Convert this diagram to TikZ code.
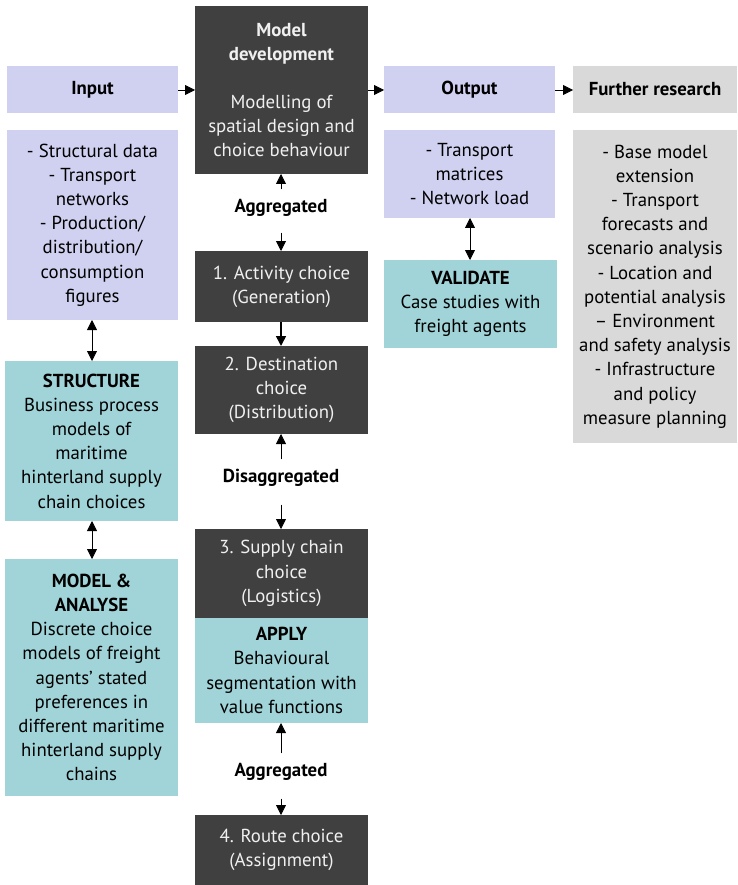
\documentclass[tikz,border=0pt]{standalone}
\usepackage{fontspec}
\setmainfont{PT Sans}
\usetikzlibrary{arrows.meta}
\definecolor{lav}{RGB}{208,208,240}
\definecolor{teal2}{RGB}{160,212,216}
\definecolor{gry}{RGB}{217,217,217}
\definecolor{drk}{RGB}{64,64,64}
\definecolor{ltxt}{RGB}{240,240,240}
\tikzset{
  box/.style={inner sep=0pt, outer sep=0pt, align=center, font=\fontsize{18.8}{24.2}\selectfont},
  lavbox/.style={box, fill=lav, text=black},
  tealbox/.style={box, fill=teal2, text=black},
  grybox/.style={box, fill=gry, text=black},
  drkbox/.style={box, fill=drk, text=ltxt},
  lbl/.style={inner sep=0pt, outer sep=0pt, font=\fontsize{18.8}{24}\selectfont\bfseries},
  arr/.style={-{Triangle[width=10pt,length=10pt]}, line width=0.8pt},
  darr/.style={{Triangle[width=10pt,length=10pt]}-{Triangle[width=10pt,length=10pt]}, line width=0.8pt}
}
\newcommand{\bx}[7]{% name, style, x1, y1, x2, y2, text
  \node[#2, minimum width=#5pt-#3pt, minimum height=#6pt-#4pt] (#1) at ({(#3+#5)/2*1pt}, {-(#4+#6)/2*1pt}) {#7};}
\begin{document}
\begin{tikzpicture}
\useasboundingbox (0,0) rectangle (737pt,-885pt);
% left column
\bx{inH}{lavbox}{7}{66}{178}{113}{\textbf{Input}}
\bx{inB}{lavbox}{7}{130}{178}{320}{- Structural data\\- Transport\\networks\\- Production/\\distribution/\\consumption\\figures}
\bx{st}{tealbox}{5}{361}{178}{521}{\textbf{STRUCTURE}\\Business process\\models of\\maritime\\hinterland supply\\chain choices}
\bx{ma}{tealbox}{5}{559}{178}{796}{\textbf{MODEL \&}\\\textbf{ANALYSE}\\Discrete choice\\models of freight\\agents’ stated\\preferences in\\different maritime\\hinterland supply\\chains}
% middle column
\bx{md}{drkbox}{195}{6}{368}{174}{\textbf{Model}\\\textbf{development}\\[24pt]Modelling of\\spatial design and\\choice behaviour}
\bx{act}{drkbox}{195}{251}{368}{322}{1. Activity choice\\(Generation)}
\bx{dst}{drkbox}{195}{346}{368}{434}{2. Destination\\choice\\(Distribution)}
\bx{sc}{drkbox}{195}{529}{368}{618}{3. Supply chain\\choice\\(Logistics)}
\bx{ap}{tealbox}{195}{618}{368}{723}{\textbf{APPLY}\\Behavioural\\segmentation with\\value functions}
\bx{rt}{drkbox}{195}{815}{368}{885}{4. Route choice\\(Assignment)}
% right columns
\bx{outH}{lavbox}{384}{66}{555}{113}{\textbf{Output}}
\bx{outB}{lavbox}{384}{130}{555}{218}{- Transport\\matrices\\- Network load}
\bx{val}{tealbox}{384}{260}{557}{348}{\textbf{VALIDATE}\\Case studies with\\freight agents}
\bx{frH}{grybox}{573}{66}{737}{113}{\textbf{Further research}}
\bx{frB}{grybox}{573}{130}{737}{443}{- Base model\\extension\\- Transport\\forecasts and\\scenario analysis\\- Location and\\potential analysis\\– Environment\\and safety analysis\\- Infrastructure\\and policy\\measure planning}
% labels
\node[lbl] (ag1) at (281pt,-208pt) {Aggregated};
\node[lbl] (dis) at (281pt,-478pt) {Disaggregated};
\node[lbl] (ag2) at (281pt,-772pt) {Aggregated};
% horizontal arrows
\draw[arr] (inH.east |- 0,-90pt) -- (md.west |- 0,-90pt);
\draw[arr] (md.east |- 0,-90pt) -- (outH.west |- 0,-90pt);
\draw[arr] (outH.east |- 0,-90pt) -- (frH.west |- 0,-90pt);
% double arrows
\draw[darr] (inB.south -| 92pt,0) -- (st.north -| 92pt,0);
\draw[darr] (st.south -| 92pt,0) -- (ma.north -| 92pt,0);
\draw[darr] (outB.south -| 470pt,0) -- (val.north -| 470pt,0);
% middle arrows
\draw[arr, shorten <=10pt] (ag1.north -| 281pt,0) -- (md.south -| 281pt,0);
\draw[arr, shorten <=16pt] (ag1.south -| 281pt,0) -- (act.north -| 281pt,0);
\draw[arr, line width=1.6pt] (act.south -| 281pt,0) -- (dst.north -| 281pt,0);
\draw[arr, shorten <=10pt] (dis.north -| 281pt,0) -- (dst.south -| 281pt,0);
\draw[arr, shorten <=18pt] (dis.south -| 281pt,0) -- (sc.north -| 281pt,0);
\draw[arr, shorten <=10pt] (ag2.north -| 281pt,0) -- (ap.south -| 281pt,0);
\draw[arr, shorten <=18pt] (ag2.south -| 281pt,0) -- (rt.north -| 281pt,0);
\end{tikzpicture}
\end{document}
